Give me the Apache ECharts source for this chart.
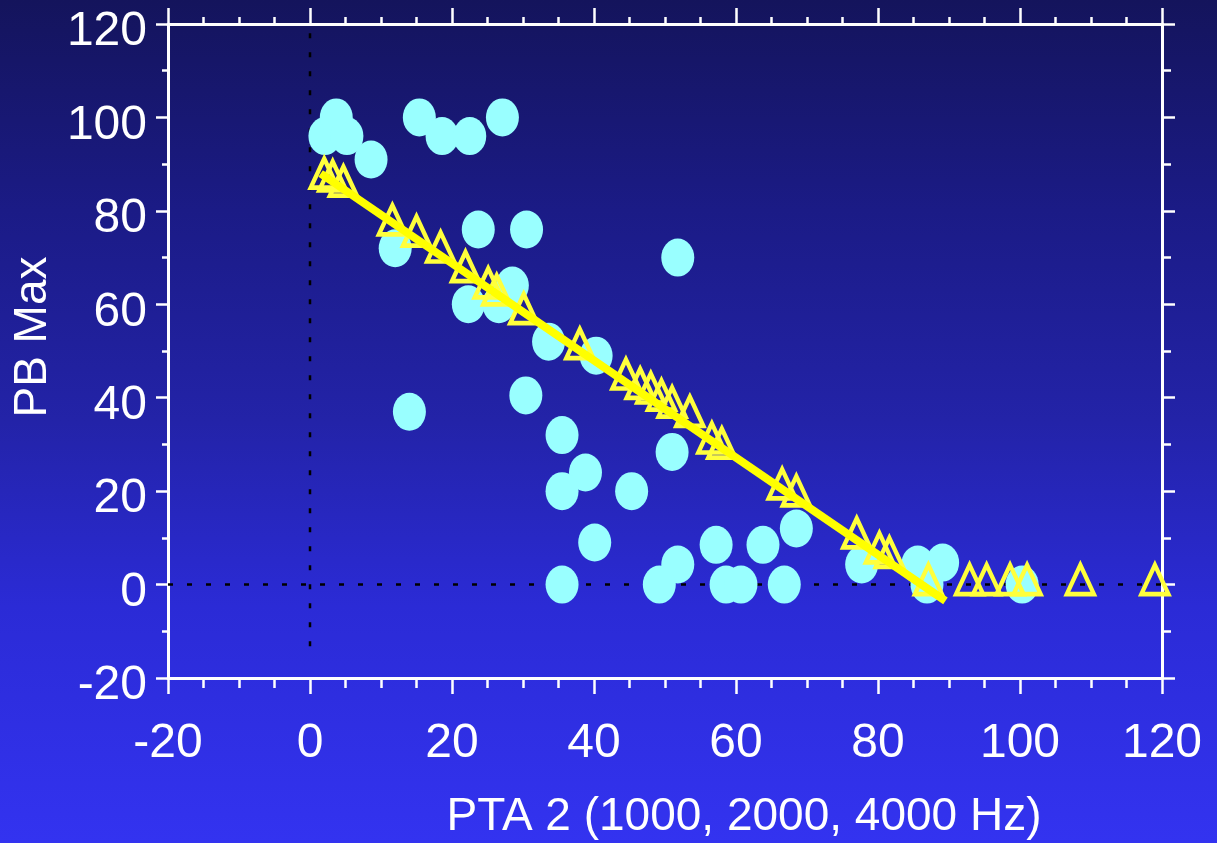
<!DOCTYPE html>
<html><head><meta charset="utf-8">
<script src="https://cdn.jsdelivr.net/npm/echarts@6/dist/echarts.min.js"></script>
<style>html,body{margin:0;padding:0;width:1217px;height:843px;overflow:hidden;background:#1f1f9a}#c{width:1217px;height:843px}</style>
</head><body><div id="c"></div><script>
// Measured points (cyan ellipses): [PTA 2, PB Max]
const measuredPts = [
  [2.1,96],[3.7,100],[5.2,96],[8.6,91],[15.4,100],[18.6,96],[22.5,96],[27.1,100],
  [23.7,76],[30.5,76],[12.0,72],[22.3,60],[28.5,64],[26.6,60],[33.6,52],[40.3,49],
  [30.4,40.5],[14,37],[35.5,32],[38.8,24],[35.5,20],[45.3,20],[51,28.4],[51.8,70],
  [40.1,9],[35.5,0],[51.8,4.3],[49.2,0],[57.2,8.5],[63.8,8.5],[58.6,0],[60.7,0],
  [66.8,0],[68.5,12],[77.7,4.3],[85.6,4.3],[89.1,4.7],[86.9,0],[100.3,0]
];
// Predicted points (yellow open triangles)
const predictedPts = [
  [2.0,87],[3.2,86.4],[4.7,85.3],[11.6,77],[15,74.6],[18.4,71.2],[21.9,67],[25.1,63.5],
  [26.3,62],[30.1,58],[38,50.5],[44.5,44],[46.5,42],[48,41],[49.5,39.5],[51,38],
  [53.5,36],[56.6,30.3],[58,29.2],[66.5,20.5],[68.5,19],[77,10],[80.2,6.8],[81.6,5.8],
  [87.1,0],[92.9,0],[95.3,0],[98.6,0],[101,0],[108.5,0],[119,0]
];
// Regression line endpoints
const fitLine = [[1.5,88],[89.5,-3.5]];
// Reference dotted lines
const zeroHLine = [[-20,0],[120,0]];
const zeroVLine = [[0,118],[0,-15.5]];
// Axis settings
const axisMin = -20, axisMax = 120, axisStep = 20;
const xTitle = 'PTA 2 (1000, 2000, 4000 Hz)';
const yTitle = 'PB Max';

const FONT = '"Liberation Sans", Arial, Helvetica, sans-serif';
const W = '#ffffff';
function mkAxis(pos, isX, showLabel) {
  const majorLen = isX ? 16 : 12;
  const minorLen = isX ? (pos === 'top' ? 7 : 10) : (pos === 'right' ? 9 : 6);
  const lbl = { show: false };
  if (showLabel) {
    lbl.show = true; lbl.color = W; lbl.fontSize = 48; lbl.fontFamily = FONT;
    lbl.margin = isX ? 42 : 21; lbl.showMinLabel = true; lbl.showMaxLabel = true; lbl.hideOverlap = false;
    if (!isX) {
      lbl.formatter = function (v) { return '{v|' + v + '}'; };
      lbl.rich = { v: { color: W, fontSize: 48, fontFamily: FONT, padding: [16, 0, 0, 0] } };
    }
  }
  return {
    type: 'value', position: pos, min: axisMin, max: axisMax, interval: axisStep,
    axisLine: { show: true, onZero: false, lineStyle: { color: W, width: 3 } },
    axisTick: { show: true, inside: false, length: pos === 'right' ? 13 : majorLen, lineStyle: { color: W, width: 2.5 } },
    minorTick: { show: true, splitNumber: isX ? 4 : 2, length: minorLen, lineStyle: { color: W, width: 2.5 } },
    splitLine: { show: false }, minorSplitLine: { show: false },
    axisLabel: lbl,
    axisPointer: { show: false }
  };
}
const xBottom = mkAxis('bottom', true, true);
xBottom.name = xTitle;
xBottom.nameLocation = 'middle';
xBottom.nameGap = 116;
xBottom.nameTextStyle = { color: W, fontSize: 46, fontFamily: FONT, padding: [0, 0, 0, 158] };
const yLeft = mkAxis('left', false, true);
yLeft.name = yTitle;
yLeft.nameLocation = 'middle';
yLeft.nameGap = 110;
yLeft.nameTextStyle = { color: W, fontSize: 46, fontFamily: FONT, padding: [0, 0, 0, 28] };

const chart = echarts.init(document.getElementById('c'), null, { renderer: 'canvas', width: 1217, height: 843 });
chart.setOption({
  animation: false,
  backgroundColor: { type: 'linear', x: 0, y: 0, x2: 0, y2: 1, colorStops: [
    { offset: 0, color: '#14145c' }, { offset: 0.25, color: '#1b1b86' },
    { offset: 0.5, color: '#2323a8' }, { offset: 0.72, color: '#2b2bd6' }, { offset: 1, color: '#3333f0' }
  ] },
  grid: { left: 168, right: 55, top: 24, bottom: 165, containLabel: false, outerBoundsMode: 'none' },
  xAxis: [xBottom, mkAxis('top', true, false)],
  yAxis: [yLeft, mkAxis('right', false, false)],
  series: [
    { type: 'line', data: zeroHLine, symbol: 'none', silent: true, z: 1,
      lineStyle: { color: '#000', width: 2.5, type: [5, 14] } },
    { type: 'line', data: zeroVLine, symbol: 'none', silent: true, z: 1,
      lineStyle: { color: '#000', width: 2.5, type: [5, 14] } },
    { type: 'scatter', data: measuredPts, z: 2,
      symbol: 'path://M0,-1A1,1 0 1 1 0,1A1,1 0 1 1 0,-1Z', symbolSize: [33, 38], symbolKeepAspect: false,
      itemStyle: { color: '#99ffff', opacity: 1 } },
    { type: 'scatter', data: predictedPts, z: 3,
      symbol: 'triangle', symbolSize: [27, 29], symbolOffset: [0, -5],
      itemStyle: { color: 'rgba(0,0,0,0)', borderColor: '#ffff3c', borderWidth: 4.5, opacity: 1 } },
    { type: 'line', data: fitLine, symbol: 'none', z: 4, silent: true,
      lineStyle: { color: '#ffff00', width: 8, cap: 'butt' } }
  ]
});
</script></body></html>
